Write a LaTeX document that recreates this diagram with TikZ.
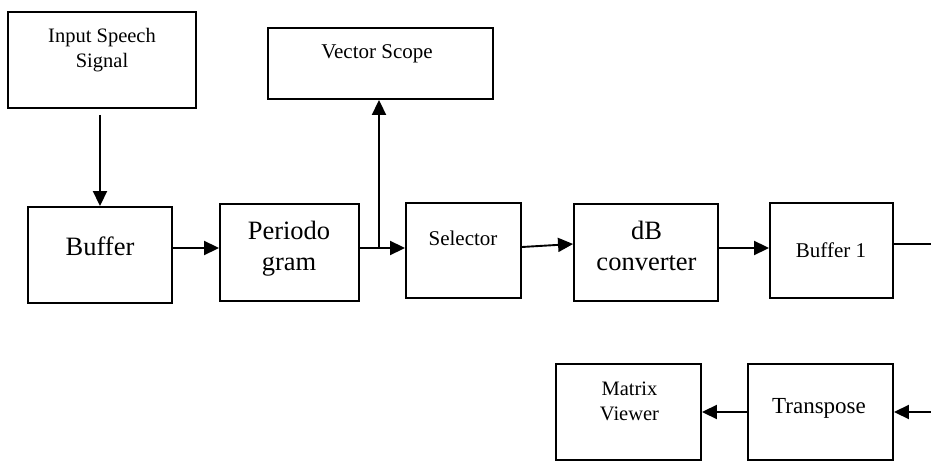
\documentclass[tikz,border=0pt]{standalone}
\usepackage{fontspec}
\setmainfont{Liberation Serif}
\usetikzlibrary{arrows.meta}
\begin{document}
\begin{tikzpicture}[x=1pt,y=-1pt,
  blk/.style={draw=black,line width=1.9pt,inner sep=0pt},
  txt/.style={anchor=base,inner sep=0pt},
  conn/.style={line width=1.9pt},
  arr/.style={conn,-{Triangle[length=15pt,width=14pt]}}]
\useasboundingbox (0,0) rectangle (931,462);
% boxes
\node[blk,minimum width=188pt,minimum height=96pt] (inp) at (102,60) {};
\node[blk,minimum width=144pt,minimum height=96pt] (buf) at (100,255) {};
\node[blk,minimum width=139pt,minimum height=97pt] (per) at (289.5,252.5) {};
\node[blk,minimum width=225pt,minimum height=71pt] (vs) at (380.5,63.5) {};
\node[blk,minimum width=115pt,minimum height=95pt] (sel) at (463.5,250.5) {};
\node[blk,minimum width=144pt,minimum height=97pt] (db) at (646,252.5) {};
\node[blk,minimum width=123pt,minimum height=95pt] (bo) at (831.5,250.5) {};
\node[blk,minimum width=145pt,minimum height=96pt] (mv) at (628.5,412) {};
\node[blk,minimum width=145pt,minimum height=96pt] (tr) at (820.5,412) {};
% texts
\node[txt,font=\fontsize{20.5}{24}\selectfont] (t1) at (102,43) {Input Speech};
\node[txt,font=\fontsize{20.5}{24}\selectfont] (t2) at (102,68) {Signal};
\node[txt,font=\fontsize{26.5}{30}\selectfont] (t3) at (100,256) {Buffer};
\node[txt,font=\fontsize{26.5}{30}\selectfont] (t4) at (289,240) {Periodo};
\node[txt,font=\fontsize{26.5}{30}\selectfont] (t5) at (289,270) {gram};
\node[txt,font=\fontsize{21}{25}\selectfont] (t6) at (377,59) {Vector Scope};
\node[txt,font=\fontsize{21}{25}\selectfont] (t7) at (463,246) {Selector};
\node[txt,font=\fontsize{26.5}{30}\selectfont] (t8) at (646.5,240) {dB};
\node[txt,font=\fontsize{26.5}{30}\selectfont] (t9) at (646.5,270) {converter};
\node[txt,font=\fontsize{21}{25}\selectfont] (t10) at (831,258) {Buffer 1};
\node[txt,font=\fontsize{20.5}{24}\selectfont] (t11) at (629.5,395) {Matrix};
\node[txt,font=\fontsize{20.5}{24}\selectfont] (t12) at (629.5,420) {Viewer};
\node[txt,font=\fontsize{23}{27}\selectfont] (t13) at (819,413) {Transpose};
% connectors
\coordinate (s1) at ([yshift=-6pt]buf.north |- inp.south);
\draw[arr] (s1) -- (buf.north);
\coordinate (s2) at ([yshift=7pt]buf.east);
\draw[arr] (s2) -- (s2 -| per.west);
\coordinate (s3) at ([yshift=4.5pt]per.east);
\draw[arr] (s3) -- (s3 -| sel.west);
\coordinate (br) at (379,248);
\draw[arr] (br) -- (br |- vs.south);
\draw[arr] ([yshift=3.5pt]sel.east) -- ([yshift=8.5pt]db.west);
\coordinate (s4) at ([yshift=4.5pt]db.east);
\draw[arr] (s4) -- (s4 -| bo.west);
\coordinate (r1) at (931,244);
\draw[conn] ([yshift=6.5pt]bo.east) -- (r1);
\coordinate (r2) at (931,412);
\draw[arr] (r2) -- (tr.east);
\draw[arr] (tr.west) -- (mv.east);
\end{tikzpicture}
\end{document}
